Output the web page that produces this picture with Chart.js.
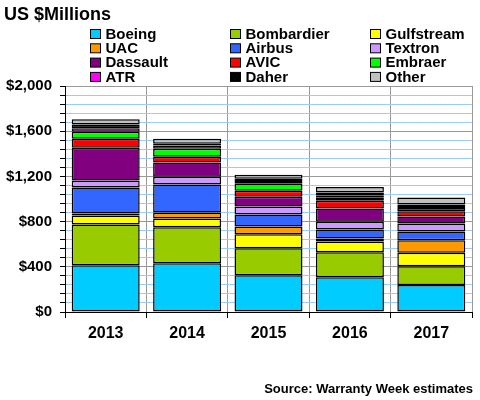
<!DOCTYPE html>
<html>
<head>
<meta charset="utf-8">
<script src="https://cdn.jsdelivr.net/npm/chart.js@4/dist/chart.umd.min.js"></script>
<style>
  html, body { margin: 0; padding: 0; background: #fff; }
  #wrap { width: 480px; height: 400px; }
</style>
</head>
<body>
<div id="wrap"><canvas id="c" width="480" height="400"></canvas></div>
<script>
// categories and series values ($ millions)
const years = ["2013", "2014", "2015", "2016", "2017"];
const makers = ["Boeing", "Bombardier", "Gulfstream", "UAC", "Airbus", "Textron",
                "Dassault", "AVIC", "Embraer", "ATR", "Daher", "Other"];
const boeing     = [414, 432, 326, 308, 238];
const bombardier = [361, 317, 238, 220, 167];
const gulfstream = [79, 79, 123, 97, 120];
const uac        = [18, 53, 70, 26, 109];
const airbus     = [229, 247, 106, 79, 79];
const textron    = [62, 68, 70, 68, 70];
const dassault   = [291, 126, 88, 117, 62];
const avic       = [79, 53, 53, 70, 47];
const embraer    = [62, 70, 62, 26, 29];
const atr        = [32, 29, 23, 23, 18];
const daher      = [32, 15, 21, 23, 12];
const other      = [47, 44, 35, 50, 62];
const yTicks = [0, 400, 800, 1200, 1600, 2000];

const series = [boeing, bombardier, gulfstream, uac, airbus, textron,
                dassault, avic, embraer, atr, daher, other];
const colors = ["#00CCFF", "#99CC00", "#FFFF00", "#FF9900", "#3366FF", "#CC99FF",
                "#800080", "#FF0000", "#00FF00", "#FF00FF", "#000000", "#C0C0C0"];

const FONT = "'Liberation Sans', Arial, sans-serif";
Chart.defaults.font.family = FONT;
Chart.defaults.color = "#000";

// title, 3-column legend and source line drawn on the canvas
const extras = {
  id: "extras",
  afterDraw(chart) {
    const ctx = chart.ctx;
    ctx.save();
    ctx.fillStyle = "#000";
    ctx.font = "bold 18px " + FONT;
    ctx.textAlign = "left";
    ctx.textBaseline = "middle";
    ctx.fillText("US $Millions", 4, 15);

    ctx.font = "bold 15px " + FONT;
    chart.data.datasets.forEach((ds, i) => {
      const col = i % 3, row = Math.floor(i / 3);
      const x = 90.5 + col * 140, y = 29.5 + row * 14.3;
      ctx.fillStyle = ds.backgroundColor;
      ctx.fillRect(x, y, 10, 9);
      ctx.strokeStyle = "#000";
      ctx.lineWidth = 1;
      ctx.strokeRect(x, y, 10, 9);
      ctx.fillStyle = "#000";
      ctx.fillText(ds.label, x + 15, y + 5);
    });

    ctx.font = "bold 13px " + FONT;
    ctx.textAlign = "right";
    ctx.fillText("Source: Warranty Week estimates", 473, 389);
    ctx.restore();
  }
};

new Chart(document.getElementById("c"), {
  type: "bar",
  data: {
    labels: years,
    datasets: series.map((d, i) => ({
      label: makers[i],
      data: d,
      backgroundColor: colors[i],
      borderColor: "#000",
      borderWidth: 1.5,
      borderSkipped: false
    }))
  },
  options: {
    responsive: false,
    animation: false,
    layout: { padding: { top: 86, right: 8, left: 0, bottom: 0 } },
    plugins: { legend: { display: false }, title: { display: false }, tooltip: { enabled: false } },
    datasets: { bar: { categoryPercentage: 1, barPercentage: 0.835 } },
    scales: {
      x: {
        stacked: true,
        grid: { color: "#999", tickColor: "#000", tickLength: 6 },
        border: { color: "#000", width: 1 },
        ticks: { font: { size: 16, weight: "bold" }, padding: 6, color: "#000" },
        afterFit(s) { s.height = 88; }
      },
      y: {
        stacked: true,
        min: 0,
        max: 2000,
        grid: {
          color: c => yTicks.includes(c.tick.value) ? "#999" : "#99CCFF",
          tickColor: "#000",
          tickLength: 5
        },
        border: { color: "#000", width: 1 },
        ticks: {
          stepSize: 80,
          autoSkip: false,
          padding: 8,
          font: { size: 15, weight: "bold" },
          color: "#000",
          callback: v => yTicks.includes(v) ? "$" + v.toLocaleString("en-US") : ""
        },
        afterFit(s) { s.width = 65; }
      }
    }
  },
  plugins: [extras]
});
</script>
</body>
</html>
